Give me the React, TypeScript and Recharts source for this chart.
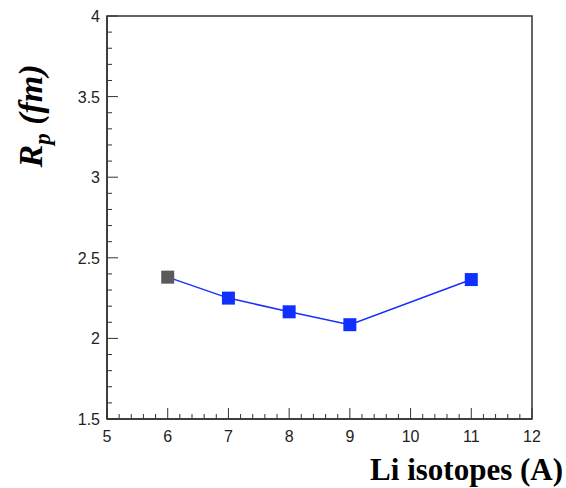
import React from 'react';
import { ComposedChart, Line, XAxis, YAxis, ReferenceArea } from 'recharts';

const isotopes = [6, 7, 8, 9, 11];
const radius = [2.38, 2.25, 2.165, 2.085, 2.365];
const xMajor = [5, 6, 7, 8, 9, 10, 11, 12];
const yMajor = [1.5, 2, 2.5, 3, 3.5, 4];

const data = isotopes.map((a, i) => ({ a, r: radius[i] }));

const xTicks: number[] = [];
xMajor.forEach((m, i) => {
  if (i < xMajor.length - 1) {
    for (let k = 0; k < 5; k++) xTicks.push(Math.round((m + k * 0.2) * 10) / 10);
  } else xTicks.push(m);
});
const yTicks: number[] = [];
yMajor.forEach((m, i) => {
  if (i < yMajor.length - 1) {
    for (let k = 0; k < 5; k++) yTicks.push(Math.round((m + k * 0.1) * 10) / 10);
  } else yTicks.push(m);
});

const tickFont = '"Liberation Sans", Arial, sans-serif';

const XTick = (props: any) => {
  const { x, y, payload } = props;
  const v = payload.value;
  const major = xMajor.includes(v);
  return (
    <g>
      <line x1={x} x2={x} y1={y} y2={y - (major ? 11 : 5)} stroke="#333" strokeWidth={1} />
      {major && (
        <text x={x} y={y + 23} textAnchor="middle" fontSize={16} fontFamily={tickFont} fill="#222">
          {v}
        </text>
      )}
    </g>
  );
};

const YTick = (props: any) => {
  const { x, y, payload } = props;
  const v = payload.value;
  const major = yMajor.includes(v);
  return (
    <g>
      <line x1={x} x2={x + (major ? 11 : 5)} y1={y} y2={y} stroke="#333" strokeWidth={1} />
      {major && (
        <text x={x - 7} y={y + 6} textAnchor="end" fontSize={16} fontFamily={tickFont} fill="#222">
          {v}
        </text>
      )}
    </g>
  );
};

const SquareDot = (props: any) => {
  const { cx, cy, index } = props;
  if (cx == null || cy == null) return null;
  const fill = index === 0 ? '#5a5a5a' : '#1030ff';
  return <rect key={index} x={cx - 6.5} y={cy - 6.5} width={13} height={13} fill={fill} />;
};

export default function App() {
  return (
    <div style={{ position: 'absolute', left: 0, top: 0, width: 566, height: 488, background: '#fff' }}>
      <ComposedChart
        width={566}
        height={488}
        data={data}
        margin={{ top: 16, right: 34, bottom: 39, left: 47 }}
      >
        <XAxis
          dataKey="a"
          type="number"
          domain={[5, 12]}
          ticks={xTicks}
          interval={0}
          allowDataOverflow
          height={30}
          tickSize={0}
          tickMargin={0}
          tickLine={false}
          axisLine={{ stroke: '#333', strokeWidth: 1.5 }}
          tick={<XTick />}
        />
        <YAxis
          type="number"
          domain={[1.5, 4]}
          ticks={yTicks}
          interval={0}
          allowDataOverflow
          width={60}
          tickSize={0}
          tickMargin={0}
          tickLine={false}
          axisLine={{ stroke: '#333', strokeWidth: 1.5 }}
          tick={<YTick />}
        />
        <ReferenceArea x1={5} x2={12} y1={1.5} y2={4} fill="none" stroke="#333" strokeWidth={1.5} />
        <Line
          dataKey="r"
          stroke="#1a2cff"
          strokeWidth={1.5}
          dot={<SquareDot />}
          activeDot={false}
          isAnimationActive={false}
        />
      </ComposedChart>
      <svg
        width={566}
        height={488}
        style={{ position: 'absolute', left: 0, top: 0, pointerEvents: 'none' }}
      >
        <text
          transform="translate(42,116) rotate(-90)"
          textAnchor="middle"
          fontFamily='"Liberation Serif", "Times New Roman", serif'
          fontWeight="bold"
          fontStyle="italic"
          fontSize={34}
          fill="#000"
        >
          R
          <tspan fontSize={23} dy={8}>p</tspan>
          <tspan dy={-8}> (fm)</tspan>
        </text>
        <text
          x={563}
          y={480}
          textAnchor="end"
          fontFamily='"Liberation Serif", "Times New Roman", serif'
          fontWeight="bold"
          fontSize={31}
          fill="#000"
        >
          Li isotopes (A)
        </text>
      </svg>
    </div>
  );
}
